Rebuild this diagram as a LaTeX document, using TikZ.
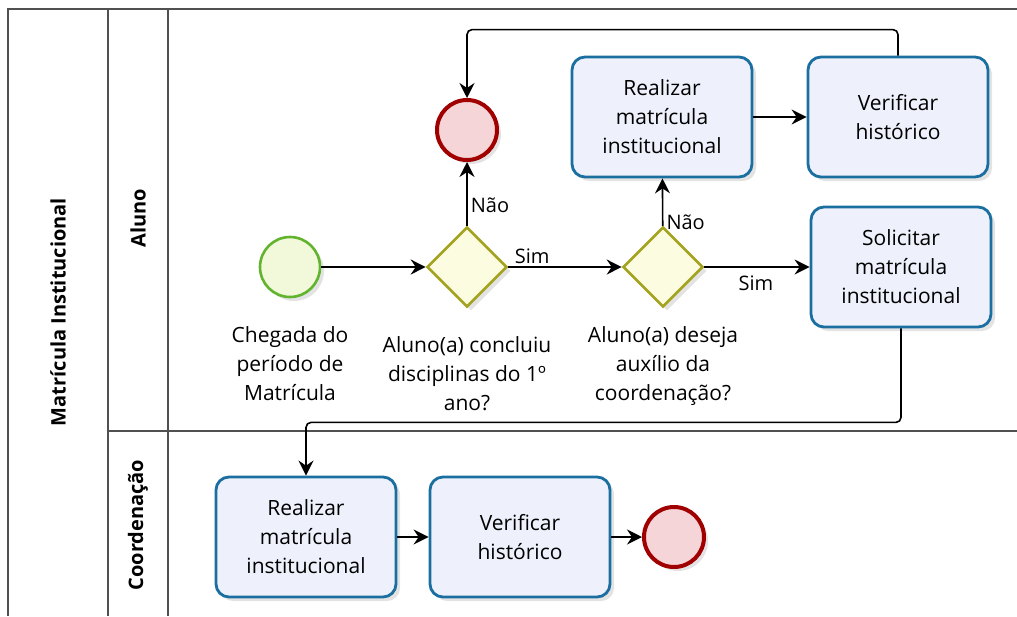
\documentclass[tikz,border=0pt]{standalone}
\usepackage{fontspec}
\setmainfont{Open Sans}
\usetikzlibrary{shapes.geometric, arrows.meta, shadows}

\definecolor{taskblue}{HTML}{1B6FA0}
\definecolor{taskfill}{HTML}{EEF1FB}
\definecolor{endred}{HTML}{A00000}
\definecolor{endfill}{HTML}{F5D5D8}
\definecolor{startgreen}{HTML}{62B32E}
\definecolor{startfill}{HTML}{F1F9DA}
\definecolor{gateolive}{HTML}{A3A321}
\definecolor{gatefill}{HTML}{FCFCE0}
\definecolor{poolgray}{HTML}{505050}

\tikzset{
  shad/.style={drop shadow={opacity=0.22, shadow xshift=4pt, shadow yshift=-4pt}},
  task/.style={draw=taskblue, line width=2.8pt, rounded corners=13pt, fill=taskfill, shad,
    minimum width=180pt, minimum height=120pt, text width=170pt, align=center,
    font=\fontsize{21}{29}\selectfont},
  startevt/.style={circle, draw=startgreen, line width=2.6pt, fill=startfill, shad, minimum size=60pt, inner sep=0pt},
  endevt/.style={circle, draw=endred, line width=4pt, fill=endfill, shad, minimum size=60pt, inner sep=0pt},
  gate/.style={diamond, draw=gateolive, line width=2.6pt, fill=gatefill, shad, minimum size=80pt, inner sep=0pt},
  evlabel/.style={align=center, font=\fontsize{21}{29}\selectfont},
  lbl/.style={font=\fontsize{20}{24}\selectfont, inner sep=3pt},
  lane/.style={rotate=90, font=\fontsize{20}{24}\selectfont\bfseries},
  poolline/.style={draw=poolgray, line width=1.5pt},
  flow/.style={-{Stealth[length=15pt, width=15pt, inset=5pt]}, line width=1.6pt, rounded corners=5pt}
}

\begin{document}
\begin{tikzpicture}[x=1pt, y=-1pt]
  \useasboundingbox (0,0) rectangle (1017,616);

  % pool and lanes
  \draw[poolline] (1017,9) -- (8,9) -- (8,616);
  \draw[poolline] (108,9) -- (108,616);
  \draw[poolline] (168,9) -- (168,616);
  \draw[poolline] (108,431) -- (1017,431);
  \node[lane] (pool) at (58,312) {Matrícula Institucional};
  \node[lane] (aluno) at (138,218) {Aluno};
  \node[lane] (coord) at (138,525) {Coordenação};

  % lane Aluno
  \node[startevt] (start) at (290,267) {};
  \node[gate] (gwA) at (467,267) {};
  \node[gate] (gwB) at (663,267) {};
  \node[endevt] (endA) at (467,130) {};
  \node[task] (realA) at (662,117) {Realizar\\matrícula\\institucional};
  \node[task] (verA) at (898,117) {Verificar\\histórico};
  \node[task] (sol) at (901,267) {Solicitar\\matrícula\\institucional};

  \node[evlabel] (startlbl) at (290,364) {Chegada do\\período de\\Matrícula};
  \node[evlabel] (gwAlbl) at (467,374) {Aluno(a) concluiu\\disciplinas do 1º\\ano?};
  \node[evlabel] (gwBlbl) at (663,366) {Aluno(a) deseja\\auxílio da\\coordenação?};

  % lane Coordenacao
  \node[task] (realB) at (306,537) {Realizar\\matrícula\\institucional};
  \node[task] (verB) at (520,537) {Verificar\\histórico};
  \node[endevt] (endB) at (674,537) {};

  % flows
  \draw[flow] (start) -- (gwA);
  \draw[flow] (gwA) -- node[lbl, right, pos=0.32]{Não} (endA);
  \draw[flow] (gwA) -- node[lbl, above, pos=0.21]{Sim} (gwB);
  \draw[flow] (gwB) -- node[lbl, right, pos=0.08]{Não} (realA);
  \draw[flow] (gwB) -- node[lbl, below, pos=0.49, yshift=-5pt]{Sim} (sol);
  \draw[flow] (realA) -- (verA);
  \draw[flow] (verA.north) -- ++(0,-26) -| (endA.north);
  \draw[flow] (sol.south) -- ++(0,94) -| (realB.north);
  \draw[flow] (realB) -- (verB);
  \draw[flow] (verB) -- (endB);
\end{tikzpicture}
\end{document}
